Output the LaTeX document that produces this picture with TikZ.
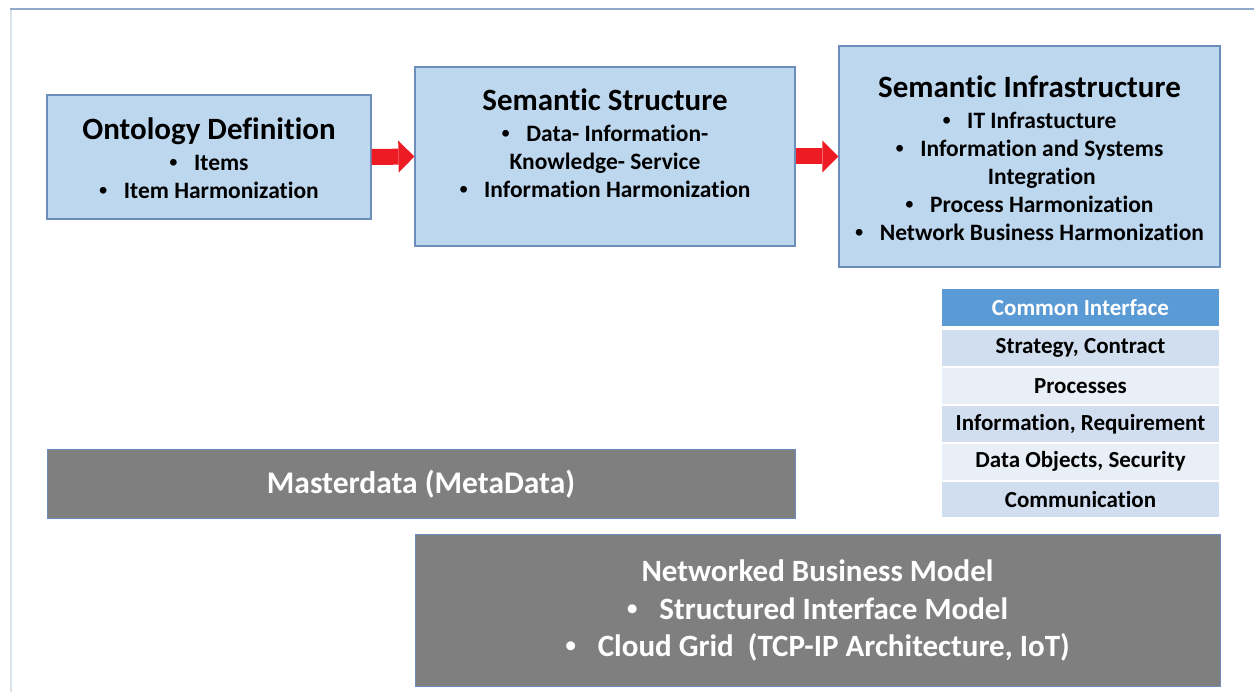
\documentclass[tikz,border=0pt]{standalone}
\usepackage{fontspec}
\setmainfont{Carlito}[Ligatures=NoCommon]
\newfontfamily\bulletfont{Liberation Sans}
\usepackage{tikz}
\usetikzlibrary{positioning,arrows.meta,calc}

\definecolor{boxfill}{RGB}{189,215,238}
\definecolor{boxline}{RGB}{109,142,186}
\definecolor{arrowred}{RGB}{237,28,36}
\definecolor{headblue}{RGB}{91,155,213}
\definecolor{rowdark}{RGB}{208,222,239}
\definecolor{rowlight}{RGB}{233,239,247}
\definecolor{grayfill}{RGB}{127,127,127}
\definecolor{frametop}{RGB}{143,170,200}
\definecolor{frameleft}{RGB}{218,227,234}

\newcommand{\bul}{{\bulletfont\char"2022}\hspace{0.7em}}
\newcommand{\ttl}[1]{{\fontsize{31}{30}\selectfont #1}\\[3pt]}

\begin{document}
\begin{tikzpicture}[x=1pt,y=1pt,
    blue box/.style={draw=boxline,line width=1.2pt,fill=boxfill,inner sep=0pt},
    box text/.style={align=center,inner sep=0pt,font=\bfseries\fontsize{23.5}{28}\selectfont},
    gray box/.style={draw=boxline,line width=1pt,fill=grayfill,text=white,inner sep=0pt,align=center},
    red arrow/.style={arrowred,line width=16pt,-{Triangle[width=32pt,length=16pt,line width=0pt]}},
    tab row/.style={minimum width=277pt,minimum height=35.5pt,inner sep=0pt,font=\bfseries\fontsize{23}{24}\selectfont}]
\useasboundingbox (0,0) rectangle (1254,-692);
\draw[frameleft,line width=2pt] (11,-692) -- (11,-9);
\draw[frametop,line width=1.5pt] (10,-9) -- (1254,-9);

\node[blue box,minimum width=324pt,minimum height=124pt] (onto) at (209,-157) {};
\node[blue box,minimum width=380pt,minimum height=179pt] (struct) at (605,-156.5) {};
\node[blue box,minimum width=381pt,minimum height=221pt] (infra) at (1029.5,-156.5) {};

\node[box text] (ontotext) at ($(onto)+(0,-1.5)$) {\ttl{Ontology Definition} \bul Items\\ \bul Item Harmonization};
\node[box text,below=22pt of struct.north] (structtext) {\ttl{Semantic Structure} \bul Data- Information-\\ Knowledge- Service\\ \bul Information Harmonization};
\node[box text] (infratext) at ($(infra)+(0,-1.5)$) {\ttl{Semantic Infrastructure} \bul IT Infrastucture\\ \bul Information and Systems\\ \hphantom{\bul}Integration\\ \bul Process Harmonization\\ \bul Network Business Harmonization};

\draw[red arrow] (onto.east) -- (struct.west);
\draw[red arrow] (struct.east) -- (infra.west);

\node[tab row,fill=headblue,text=white,minimum height=37pt] (ci) at (1080.5,-307.5) {Common Interface};
\node[tab row,fill=rowdark,below=4pt of ci] (r1) {Strategy, Contract};
\node[tab row,fill=rowlight,below=2pt of r1] (r2) {Processes};
\node[tab row,fill=rowdark,below=2pt of r2] (r3) {Information, Requirement};
\node[tab row,fill=rowlight,below=2pt of r3] (r4) {Data Objects, Security};
\node[tab row,fill=rowdark,below=2pt of r4] (r5) {Communication};

\node[gray box,minimum width=748pt,minimum height=69pt,font=\bfseries\fontsize{31.5}{32}\selectfont] (master) at (421,-484.5) {Masterdata (MetaData)};
\node[gray box,minimum width=805pt,minimum height=151pt,font=\bfseries\fontsize{31}{37.5}\selectfont] (nbm) at (817.5,-610.5) {Networked Business Model\\ \bul Structured Interface Model\\ \bul Cloud Grid\ \ (TCP-IP Architecture, IoT)};
\end{tikzpicture}
\end{document}
